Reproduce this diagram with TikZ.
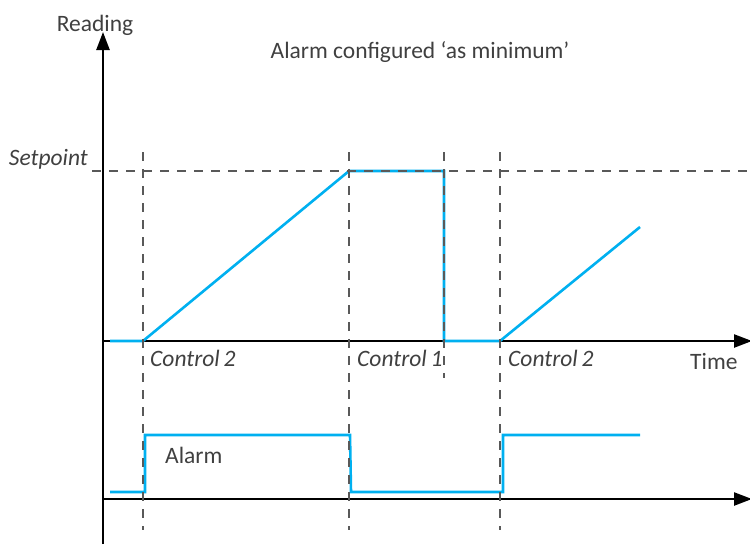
\documentclass[tikz,border=0pt]{standalone}
\usepackage{fontspec}
\setmainfont{Carlito}
\usetikzlibrary{arrows.meta}
\definecolor{sigblue}{HTML}{00B0F0}
\definecolor{txtgray}{HTML}{404040}
\definecolor{guidegray}{HTML}{595959}
\tikzset{
  axis/.style={line width=2.4pt, -{Triangle[length=18pt,width=13pt]}},
  guide/.style={guidegray, line width=1.1pt, dash pattern=on 9pt off 8pt},
  signal/.style={sigblue, line width=2.6pt, line join=miter},
  lbl/.style={text=txtgray, font=\fontsize{23.5}{27}\selectfont, inner sep=0pt},
  ctl/.style={lbl, font=\fontsize{23.5}{27}\selectfont\itshape, anchor=west},
}
\begin{document}
\begin{tikzpicture}[x=1pt,y=-1pt]
\useasboundingbox (0,0) rectangle (750,544);
% reference points
\coordinate (yb) at (103,544);
\coordinate (yt) at (103,32);
\coordinate (x1a) at (103,341);
\coordinate (x1b) at (752,341);
\coordinate (x2a) at (103,499);
\coordinate (x2b) at (752,499);
\coordinate (spa) at (92,171);
\coordinate (spb) at (750,171);
% axes
\draw[axis] (yb) -- (yt);
\draw[axis] (x1a) -- (x1b);
\draw[axis] (x2a) -- (x2b);
% reading signal
\draw[signal] (110,341) -- (143,341) -- (349,171) -- (444,171) -- (444,341) -- (500,341) -- (640,227);
% alarm signal
\draw[signal] (110,492) -- (145,492) -- (145,435) -- (350,435) -- (351,492) -- (503,492) -- (503,435) -- (640,435);
% dashed guide lines, on top of the signals
\draw[guide] (spa) -- (spb);
\draw[guide] (143,152) -- (143,530);
\draw[guide] (349,152) -- (349,530);
\draw[guide] (444,152) -- (444,378);
\draw[guide] (500,152) -- (500,530);
% labels
\node[lbl] (reading) at (95,25) {Reading};
\node[lbl] (title) at (420,52) {Alarm configured ‘as minimum’};
\node[lbl, font=\fontsize{23.5}{27}\selectfont\itshape, anchor=east] (setp) at (88,159) {Setpoint};
\node[ctl] (c2a) at (150,358) {Control\,2};
\node[ctl] (c1) at (357,358) {Control\,1};
\node[ctl] (c2b) at (508,358) {Control\,2};
\node[lbl, anchor=west] (time) at (690,361) {Time};
\node[lbl, anchor=west] (alarm) at (165,455) {Alarm};
\end{tikzpicture}
\end{document}
